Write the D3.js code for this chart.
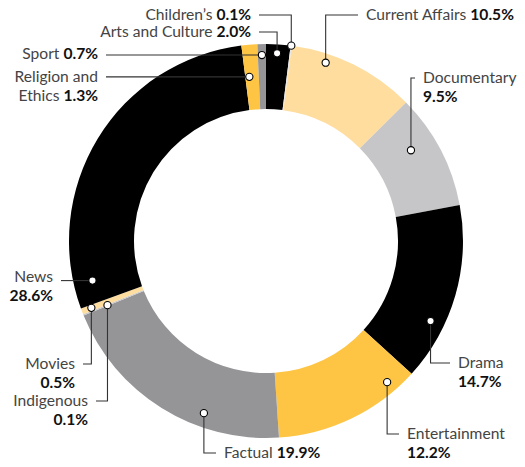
<!DOCTYPE html>
<html>
<head>
<meta charset="utf-8">
<script src="https://cdn.jsdelivr.net/npm/d3@7"></script>
<style>
  body { margin: 0; background: #fff; }
  #container { width: 525px; height: 467px; }
  text { font-family: Lato, "Open Sans", sans-serif; font-size: 15.6px; fill: #444; }
  .val { font-weight: 700; fill: #111; }
</style>
</head>
<body>
<div id="container"></div>
<script>
//data
const categories = ['Arts and Culture', "Children's", 'Current Affairs', 'Documentary', 'Drama', 'Entertainment',
    'Factual', 'Indigenous', 'Movies', 'News', 'Religion and Ethics', 'Sport']
const shares = [2.0, 0.1, 10.5, 9.5, 14.7, 12.2, 19.9, 0.1, 0.5, 28.6, 1.3, 0.7]
const valueLabels = ['2.0%', '0.1%', '10.5%', '9.5%', '14.7%', '12.2%', '19.9%', '0.1%', '0.5%', '28.6%', '1.3%', '0.7%']
// name lines as printed (last line carries the value)
const nameLines = [['Arts and Culture'], ["Children\u2019s"], ['Current Affairs'], ['Documentary', ''], ['Drama', ''],
    ['Entertainment', ''], ['Factual'], ['Indigenous', ''], ['Movies', ''], ['News', ''], ['Religion and', 'Ethics'], ['Sport']]

const sliceColors = ['#000000', '#e6e6e6', '#fedd9e', '#c6c6c8', '#000000', '#fec545',
    '#959598', '#c8c8ca', '#fedd9e', '#000000', '#fec545', '#959598']

//svg size
const w = 525
const h = 467
const cx = 266
const cy = 241
const outerRadius = 197
const innerRadius = 132

//label layout: anchor x, first line y, text anchor, dot position in slice (fraction, radius), straight leader
const labelLayout = [
    { x: 251, y: 32, a: 'end', f: 0.47, r: 188 },
    { x: 251, y: 15, a: 'end', f: 0.5, r: 197 },
    { x: 366, y: 15, a: 'start', f: 0.29, r: 188 },
    { x: 423, y: 78, a: 'start', f: 0.37, r: 171 },
    { x: 458, y: 363, a: 'start', f: 0.69, r: 183 },
    { x: 407, y: 434, a: 'start', f: 0.16, r: 186 },
    { x: 224, y: 453, a: 'start', f: 0.33, r: 183 },
    { x: 88, y: 401, a: 'end', f: 0.5, r: 171 },
    { x: 75, y: 364, a: 'end', f: 0.5, r: 187 },
    { x: 53, y: 277, a: 'end', f: 0.07, r: 178, straight: true },
    { x: 98, y: 77, a: 'end', f: 0.3, r: 165, straight: true },
    { x: 98, y: 54, a: 'end', f: 0.5, r: 186, straight: true }
]

const color = d3.scaleOrdinal().domain(categories).range(sliceColors)

const pie = d3.pie().sort(null)
const arc = d3.arc()
    .innerRadius(innerRadius)
    .outerRadius(outerRadius)

//create svg
const svg = d3.select('#container')
    .append('svg')
    .attr('width', w)
    .attr('height', h)

const g = svg.append('g')
    .attr('transform', 'translate(' + cx + ',' + cy + ')')

const slices = pie(shares)

g.selectAll('path.slice')
    .data(slices)
    .enter()
    .append('path')
    .attr('class', 'slice')
    .attr('fill', (d, i) => color(categories[i]))
    .attr('d', arc)

//dot positions from slice angles
const dots = slices.map(function(d, i) {
    const L = labelLayout[i]
    const ang = d.startAngle + L.f * (d.endAngle - d.startAngle)
    return [cx + L.r * Math.sin(ang), cy - L.r * Math.cos(ang)]
})

//leader lines
const gap = 8
svg.selectAll('path.leader')
    .data(labelLayout)
    .enter()
    .append('path')
    .attr('class', 'leader')
    .attr('fill', 'none')
    .attr('stroke', '#333')
    .attr('stroke-width', 1.1)
    .attr('d', function(L, i) {
        const p = dots[i]
        const sx = L.a === 'end' ? L.x + gap : L.x - gap
        if (L.straight) return 'M' + sx + ',' + p[1] + 'H' + p[0]
        return 'M' + sx + ',' + L.y + 'H' + p[0] + 'V' + p[1]
    })

//dots
svg.selectAll('circle.dot')
    .data(dots)
    .enter()
    .append('circle')
    .attr('class', 'dot')
    .attr('cx', d => d[0])
    .attr('cy', d => d[1])
    .attr('r', 3.6)
    .attr('fill', '#fff')
    .attr('stroke', '#000')
    .attr('stroke-width', 1.1)

//labels
const lineH = 19
categories.forEach(function(c, i) {
    const L = labelLayout[i]
    const lines = nameLines[i]
    const t = svg.append('text')
        .attr('text-anchor', L.a)
    lines.forEach(function(ln, j) {
        const last = j === lines.length - 1
        const y = L.y + j * lineH
        if (ln !== '') {
            t.append('tspan')
                .attr('x', L.x)
                .attr('y', y)
                .attr('dy', '0.35em')
                .text(ln + (last ? ' ' : ''))
        }
        if (last) {
            const v = t.append('tspan')
                .attr('class', 'val')
                .text(valueLabels[i])
            if (ln === '') v.attr('x', L.x).attr('y', y).attr('dy', '0.35em')
        }
    })
})
</script>
</body>
</html>
